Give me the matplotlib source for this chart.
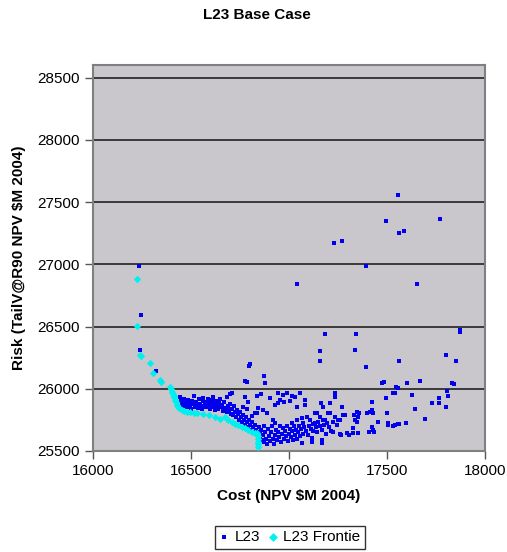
import numpy as np
import matplotlib.pyplot as plt

plt.rcParams['font.family'] = ['Liberation Sans', 'DejaVu Sans']

# L23 scenarios: (cost, risk)
l23 = [
    (16235, 26990), (16245, 26595), (16240, 26315), (16320, 26140),
    # dense cluster near frontier
    (16444, 25936), (16450, 25905), (16455, 25880), (16460, 25860), (16465, 25920), (16470, 25895),
    (16475, 25870), (16480, 25850), (16485, 25910), (16490, 25885), (16495, 25860), (16500, 25840),
    (16505, 25900), (16510, 25875), (16515, 25941), (16520, 25855), (16525, 25890), (16530, 25870),
    (16535, 25845), (16540, 25915), (16545, 25880), (16550, 25860), (16555, 25840), (16560, 25900),
    (16563, 25928), (16570, 25870), (16575, 25850), (16580, 25895), (16585, 25920), (16590, 25865),
    (16595, 25840), (16600, 25885), (16605, 25910), (16610, 25855), (16614, 25936), (16620, 25875),
    (16625, 25830), (16630, 25900), (16635, 25860), (16640, 25840), (16645, 25885), (16648, 25917),
    (16655, 25850), (16660, 25870), (16665, 25825), (16670, 25895), (16675, 25845), (16682, 25936),
    (16685, 25810), (16690, 25865), (16695, 25830), (16699, 25957), (16707, 25963), (16700, 25880),
    (16705, 25800),
    (16710, 25840), (16715, 25790), (16720, 25860), (16725, 25815), (16730, 25770), (16735, 25830),
    (16740, 25795), (16745, 25750), (16750, 25810), (16755, 25775), (16760, 25730), (16767, 25856),
    (16765, 25790), (16770, 25750), (16775, 25936), (16775, 25710), (16780, 25770), (16784, 25835),
    (16785, 25730), (16790, 25690), (16792, 25896), (16795, 25750), (16800, 25710), (16805, 25670),
    (16810, 25780), (16812, 25730), (16815, 25690), (16820, 25650), (16826, 25803), (16825, 25710),
    (16830, 25670), (16835, 25944), (16835, 25807), (16838, 25630), (16843, 25843), (16845, 25690),
    (16850, 25650), (16852, 25610), (16856, 25957), (16858, 25670), (16860, 25590), (16865, 25630),
    (16869, 25829), (16870, 25700), (16875, 25570), (16880, 25650), (16886, 25803),
    (16885, 25600), (16890, 25560), (16895, 25680), (16900, 25620), (16903, 25923), (16905, 25580),
    (16910, 25650), (16915, 25700), (16920, 25749), (16920, 25600), (16925, 25560), (16929, 25722),
    (16929, 25869), (16930, 25630), (16935, 25670), (16940, 25590), (16945, 25963), (16945, 25883),
    (16945, 25650), (16950, 25610), (16954, 25909), (16955, 25700), (16960, 25570), (16965, 25640),
    (16970, 25682), (16970, 25949), (16975, 25600), (16976, 25896), (16980, 25660), (16985, 25620),
    (16988, 25963), (16990, 25700), (16995, 25580), (17000, 25640), (17005, 25904), (17005, 25680),
    (17010, 25610), (17013, 25722), (17013, 25941), (17015, 25660), (17020, 25590), (17025, 25700),
    (17030, 25630), (17031, 25936), (17035, 25670), (17039, 25749), (17039, 25856), (17040, 25600),
    (17045, 25650), (17050, 25700), (17056, 25963), (17055, 25620), (17060, 25680), (17064, 25562),
    (17064, 25762), (17070, 25640), (17073, 25722), (17075, 25690), (17082, 25909), (17082, 25869),
    (17085, 25660), (17090, 25775), (17095, 25630), (17100, 25700),
    (17107, 25749), (17110, 25680), (17116, 25602), (17116, 25575), (17120, 25720), (17125, 25660),
    (17133, 25807), (17133, 25722), (17138, 25690), (17141, 25803), (17145, 25650), (17150, 25730),
    (17158, 25775), (17160, 25700), (17162, 25883), (17167, 25588), (17167, 25567), (17170, 25670),
    (17175, 25851), (17175, 25749), (17180, 25710), (17184, 25749), (17190, 25640), (17192, 25722),
    (17200, 25803), (17205, 25690), (17209, 25807), (17209, 25883), (17215, 25660), (17223, 25655),
    (17226, 25735), (17235, 25963), (17235, 25936), (17235, 25775), (17243, 25709), (17252, 25749),
    (17260, 25749), (17260, 25634), (17264, 25628), (17269, 25856), (17277, 25789), (17286, 25789),
    (17294, 25642), (17308, 25628), (17328, 25642), (17328, 25682), (17332, 25789), (17337, 25749),
    (17345, 25815), (17345, 25735), (17354, 25775), (17354, 25647), (17359, 25803), (17396, 25803),
    (17410, 25655), (17413, 25815), (17422, 25829), (17422, 25891), (17422, 25695), (17430, 25669),
    (17430, 25807), (17434, 25655), (17456, 25735), (17473, 26043), (17485, 26054), (17493, 25923),
    (17498, 25803), (17507, 25709), (17507, 25722), (17532, 25701), (17532, 25963), (17546, 26016),
    (17556, 26006), (17558, 25717), (17561, 25714), (17541, 25706), (17541, 25963), (17595, 25722),
    (17604, 26043), (17630, 25947), (17641, 25835), (17668, 26064), (17696, 25754), (17730, 25883),
    (17764, 25883), (17764, 25928), (17801, 25856), (17806, 25982), (17813, 25944), (17830, 26043),
    (17840, 26035),
    # upper scatter
    (16800, 26195), (16796, 26182), (16870, 26100), (16775, 26065), (16880, 26045), (16784, 26056),
    (17040, 26845), (17185, 26440), (17340, 26440), (17160, 26300), (17335, 26315), (17160, 26220),
    (17395, 26175), (17560, 26220), (17395, 26990), (17655, 26845), (17875, 26470), (17870, 26455),
    (17800, 26270), (17850, 26220), (17555, 27555), (17495, 27345), (17770, 27365), (17560, 27250),
    (17585, 27265), (17230, 27170), (17270, 27185),
]

# L23 efficient frontier
frontier = [
    (16225, 26885), (16225, 26505), (16240, 26275), (16245, 26260), (16290, 26210), (16305, 26130),
    (16340, 26070), (16345, 26055), (16395, 26015), (16400, 25995), (16405, 25975), (16410, 25960),
    (16412, 25945), (16415, 25930), (16418, 25910), (16422, 25890), (16428, 25870), (16435, 25856),
    (16440, 25845), (16452, 25829), (16465, 25820), (16480, 25812), (16495, 25810), (16515, 25808),
    (16532, 25807), (16560, 25800), (16590, 25790), (16622, 25770), (16650, 25760), (16673, 25775),
    (16690, 25745), (16710, 25730), (16725, 25720), (16741, 25709), (16760, 25695), (16775, 25685),
    (16792, 25669), (16810, 25655), (16825, 25648), (16835, 25642), (16843, 25620), (16843, 25600),
    (16843, 25575), (16843, 25555), (16843, 25535),
]

x_ticks = [16000, 16500, 17000, 17500, 18000]
y_ticks = [25500, 26000, 26500, 27000, 27500, 28000, 28500]

l23 = np.array(l23)
frontier = np.array(frontier)

fig = plt.figure(figsize=(5.07, 5.52), dpi=100)
ax = fig.add_axes([0.1834, 0.183, 0.7732, 0.699])
ax.set_facecolor('#c9c7cb')

for y in y_ticks[1:]:
    ax.axhline(y, color='#222222', lw=1.2, zorder=1)

ax.scatter(l23[:, 0], l23[:, 1], marker='s', s=5, color='#0000ee', lw=0, zorder=3, label='L23')
ax.scatter(frontier[:, 0], frontier[:, 1], marker='D', s=14, color='#00f0f0', lw=0, zorder=4,
           label='L23 Frontie')

ax.set_xlim(16000, 18000)
ax.set_ylim(25500, 28600)
ax.set_xticks(x_ticks)
ax.set_yticks(y_ticks)
ax.tick_params(labelsize=11, length=6, width=1, color='#555555', direction='out')
for s in ax.spines.values():
    s.set_color('#808080')
    s.set_linewidth(1.5)

ax.set_xlabel('Cost (NPV \\$M 2004)', fontsize=11, fontweight='bold', labelpad=8)
ax.set_ylabel('Risk (TailV@R90 NPV \\$M 2004)', fontsize=11, fontweight='bold', labelpad=8)
fig.text(0.506, 0.972, 'L23 Base Case', ha='center', va='center', fontsize=11, fontweight='bold')

leg = fig.legend(loc='center', bbox_to_anchor=(0.572, 0.027), ncol=2, fontsize=11,
                 frameon=True, fancybox=False, edgecolor='black', handlelength=0.6,
                 handletextpad=0.4, columnspacing=0.5, borderpad=0.3, markerscale=1.2)

fig.savefig('out.png', dpi=100)
